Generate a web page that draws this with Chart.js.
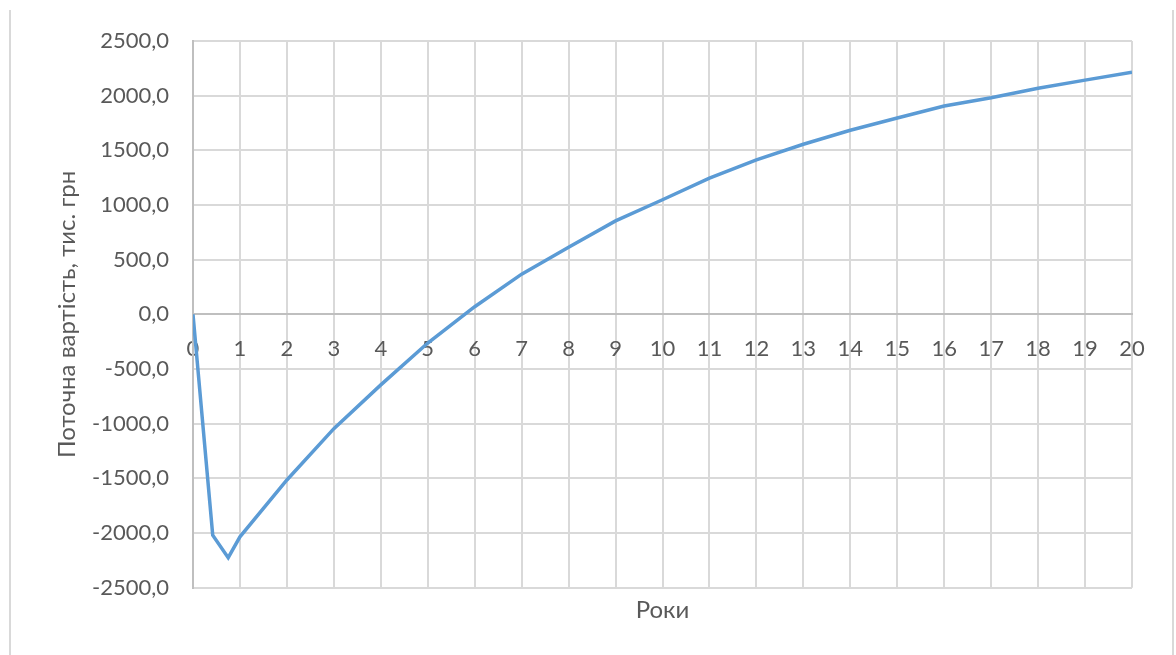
<!DOCTYPE html>
<html>
<head>
<meta charset="utf-8">
<script src="https://cdn.jsdelivr.net/npm/chart.js@4"></script>
<style>
    html, body { margin: 0; padding: 0; background: #fff; }
    .wrap { position: relative; width: 1176px; height: 655px; }
    .frame { position: absolute; top: 10px; bottom: 0; left: 9px; right: 2px;
             border-left: 2px solid #d9d9d9; border-right: 2px solid #d9d9d9; }
    canvas { position: absolute; left: 0; top: 0; }
</style>
</head>
<body>
<div class="wrap">
    <div class="frame"></div>
    <canvas id="npvChart" width="1176" height="655"></canvas>
</div>
<script>
// роки (x) та поточна вартість, тис. грн (y)
const years = [0, 0.42, 0.75, 1, 2, 3, 4, 5, 6, 7, 8, 9, 10, 11, 12, 13, 14, 15, 16, 17, 18, 19, 20];
const presentValue = [0, -2020, -2225, -2035, -1515, -1045, -645, -262, 70, 368, 614, 855, 1048, 1245, 1412, 1556, 1684, 1796, 1905, 1981, 2067, 2142, 2215];

const X_MIN = 0, X_MAX = 20, X_STEP = 1;
const Y_MIN = -2500, Y_MAX = 2500, Y_STEP = 500;

const TEXT = '#595959';
const GRID = '#d9d9d9';
const AXIS = '#bfbfbf';
const FONT = { family: 'Lato', size: 22 };
const TITLE_FONT = { family: 'Lato', size: 24 };

const fmt = v => v.toFixed(1).replace('.', ',');

new Chart(document.getElementById('npvChart').getContext('2d'), {
    type: 'line',
    data: {
        datasets: [{
            data: years.map((x, i) => ({ x, y: presentValue[i] })),
            borderColor: '#5b9bd5',
            borderWidth: 3.5,
            pointRadius: 0,
            tension: 0,
            fill: false
        }]
    },
    options: {
        responsive: false,
        animation: false,
        layout: { padding: { left: 50, right: 44, top: 41, bottom: 27 } },
        plugins: { legend: { display: false }, tooltip: { enabled: false } },
        scales: {
            x: {
                type: 'linear',
                position: { y: 0 },
                min: X_MIN, max: X_MAX,
                ticks: { stepSize: X_STEP, color: TEXT, font: FONT, padding: 21, maxRotation: 0,
                         callback: v => String(v) },
                grid: { color: GRID, lineWidth: 2, drawTicks: false },
                border: { color: AXIS, width: 2 }
            },
            xt: {
                type: 'linear',
                position: 'bottom',
                min: X_MIN, max: X_MAX,
                ticks: { display: false },
                grid: { display: false, drawTicks: false },
                border: { display: false },
                title: { display: true, text: 'Роки', color: TEXT, font: TITLE_FONT, padding: { top: 8.5, bottom: 3 } }
            },
            y: {
                min: Y_MIN, max: Y_MAX,
                ticks: { stepSize: Y_STEP, color: TEXT, font: FONT, padding: 24, callback: v => fmt(v) },
                grid: { color: GRID, lineWidth: 2, drawTicks: false },
                border: { color: AXIS, width: 2 },
                title: { display: true, text: 'Поточна вартість, тис. грн', color: TEXT, font: TITLE_FONT,
                         padding: { top: 3, bottom: 4 } },
                afterFit: s => { s.width = 143; }
            }
        }
    }
});
</script>
</body>
</html>
